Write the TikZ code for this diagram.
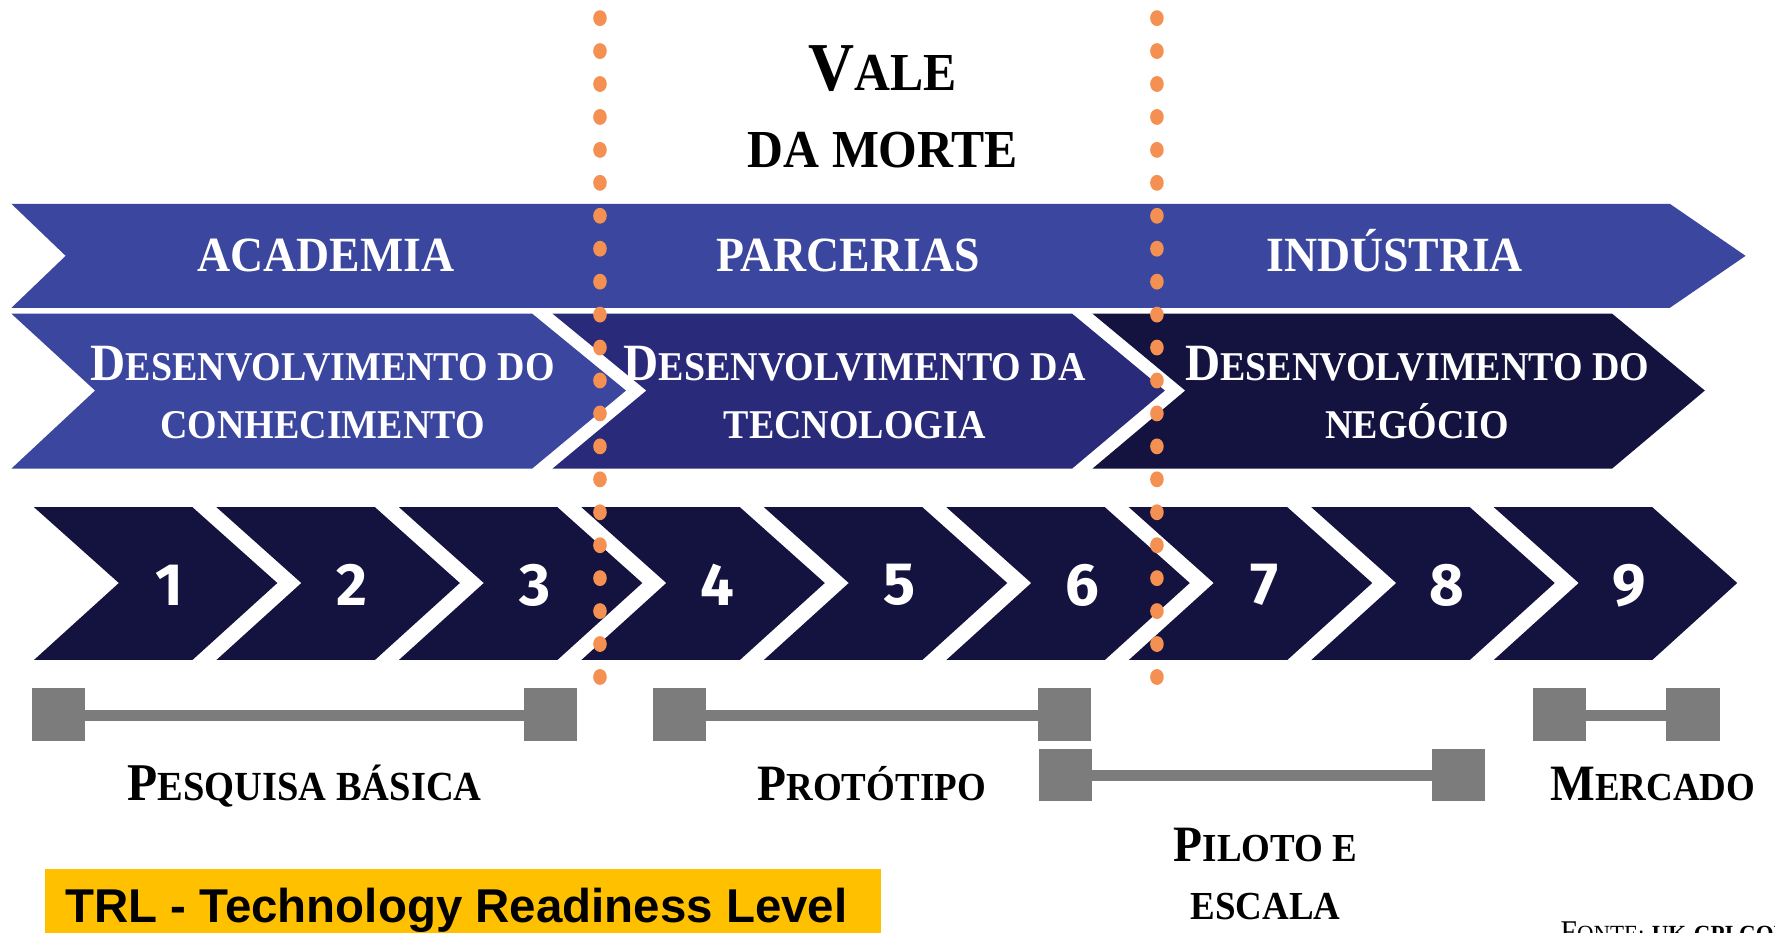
\documentclass[tikz,border=0pt]{standalone}
\usepackage{fontspec}
\setmainfont{Liberation Serif}[FakeStretch=0.93]
\newfontfamily\numfont{Fira Sans}
\newfontfamily\trlfont{Liberation Sans}

\definecolor{bandblue}{RGB}{59,70,158}
\definecolor{midblue}{RGB}{42,42,122}
\definecolor{darkblue}{RGB}{20,18,62}
\definecolor{dotorange}{RGB}{243,144,82}
\definecolor{bargray}{RGB}{124,124,124}
\definecolor{trlyellow}{RGB}{255,192,0}

\makeatletter
\newcommand\sml[1]{{\fontsize{\fpeval{0.78*\f@size}}{\f@baselineskip}\selectfont #1}}
\makeatother

\begin{document}
\begin{tikzpicture}[x=0.1132mm,y=-0.1132mm,
  head/.style={text=white,font=\fontsize{14}{16.4}\selectfont\bfseries,align=center,inner sep=0},
  devtext/.style={head,font=\fontsize{14.9}{16.4}\selectfont\bfseries},
  num/.style={text=white,font=\numfont\fontsize{17}{20}\selectfont\bfseries,inner sep=0},
  lbl/.style={font=\fontsize{14.5}{16.7}\selectfont\bfseries,align=center,inner sep=0},
  dotmark/.style={fill=dotorange},
  gapbar/.style={fill=bargray}]
  \useasboundingbox (0,0) rectangle (1568,824);
  \clip (0,0) rectangle (1568,824);

  \node[font=\fontsize{19.5}{21.9}\selectfont\bfseries,align=center,inner sep=0] (vale) at (780,94) {V\sml{ALE}\\\sml{DA MORTE}};

  \path[fill=bandblue] (10,180) -- (1475,180) -- (1542,226) -- (1475,272) -- (10,272) -- (58,226) -- cycle;
  \node[head,anchor=base] (acad) at (288,240) {ACADEMIA};
  \node[head,anchor=base] (parc) at (749,240) {PARCERIAS};
  \node[head,anchor=base] (ind) at (1232,240) {INDÚSTRIA};

  \path[fill=bandblue] (10,277) -- (470,277) -- (553,345) -- (470,414) -- (10,414) -- (84,345) -- cycle;
  \path[fill=midblue] (488,277) -- (947,277) -- (1029,345) -- (947,414) -- (488,414) -- (571,345) -- cycle;
  \path[fill=darkblue] (965,277) -- (1424,277) -- (1506,345) -- (1424,414) -- (965,414) -- (1047,345) -- cycle;
  \node[devtext] (conh) at (285,347) {D\sml{ESENVOLVIMENTO DO}\\\sml{CONHECIMENTO}};
  \node[devtext] (tecn) at (755,347) {D\sml{ESENVOLVIMENTO DA}\\\sml{TECNOLOGIA}};
  \node[devtext] (nego) at (1252,347) {D\sml{ESENVOLVIMENTO DO}\\\sml{NEGÓCIO}};

  \foreach \i in {1,...,9} {
    \pgfmathsetmacro\xa{30+(\i-1)*161.2}
    \path[fill=darkblue] (\xa,448) -- ++(140,0) -- ++(75,67) -- ++(-75,68) -- ++(-140,0) -- ++(75,-68) -- cycle;
    \node[num] (n\i) at (\xa+120,517) {\i};
  }

  \foreach \xd in {530,1022} {
    \foreach \k in {0,...,20} {
      \path[dotmark] (\xd,16+\k*29.1) ellipse (6 and 7);
    }
  }

  \path[gapbar] (28,608) rectangle (75,655);
  \path[gapbar] (463,608) rectangle (510,655);
  \path[gapbar] (75,627) rectangle (463,637);

  \path[gapbar] (577,608) rectangle (624,655);
  \path[gapbar] (917,608) rectangle (964,655);
  \path[gapbar] (624,627) rectangle (917,637);

  \path[gapbar] (918,662) rectangle (965,708);
  \path[gapbar] (1265,662) rectangle (1312,708);
  \path[gapbar] (965,680) rectangle (1265,690);

  \path[gapbar] (1354,608) rectangle (1401,655);
  \path[gapbar] (1472,608) rectangle (1519,655);
  \path[gapbar] (1401,627) rectangle (1472,637);

  \node[lbl,anchor=base,font=\fontsize{15.1}{16.7}\selectfont\bfseries] (pesq) at (269,707) {P\sml{ESQUISA BÁSICA}};
  \node[lbl,anchor=base] (prot) at (770,707) {P\sml{ROTÓTIPO}};
  \node[lbl,anchor=base] (merc) at (1460,707) {M\sml{ERCADO}};
  \node[lbl] (pilo) at (1118,772) {P\sml{ILOTO E}\\\sml{ESCALA}};

  \path[fill=trlyellow] (40,768) rectangle (778,840);
  \node[anchor=base west,inner sep=0,font=\trlfont\fontsize{13.5}{16}\selectfont\bfseries] (trl) at (57,815) {TRL - Technology Readiness Level};

  \node[anchor=base west,inner sep=0,font=\fontsize{9}{10}\selectfont] (fonte) at (1378,833) {F\sml{ONTE:} \textbf{\sml{UK-CPI.COM}}};
\end{tikzpicture}
\end{document}
